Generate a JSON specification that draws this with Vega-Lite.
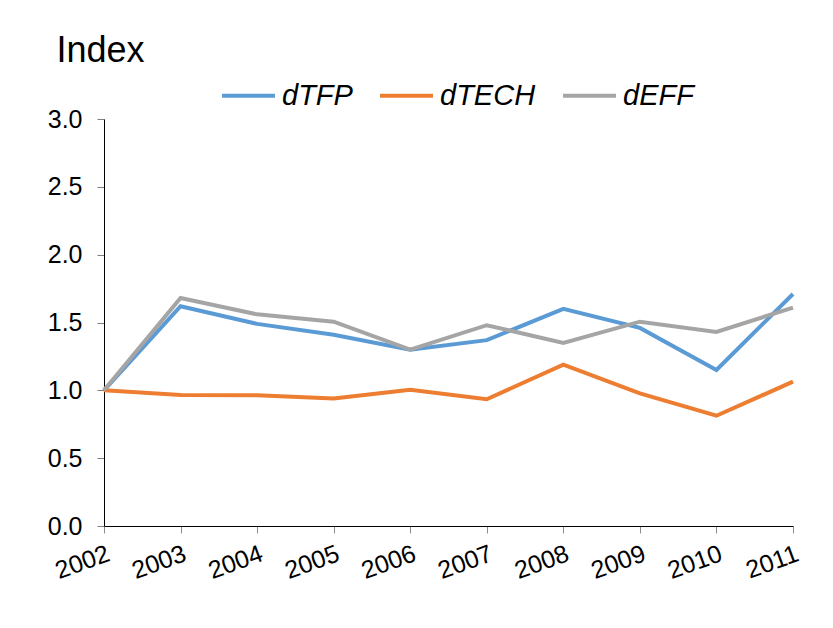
{
  "$schema": "https://vega.github.io/schema/vega-lite/v6.json",
  "width": 689,
  "height": 407,
  "autosize": {"type": "none"},
  "padding": {"left": 104, "top": 119, "right": 40, "bottom": 102},
  "background": "white",
  "config": {
    "font": "Liberation Sans",
    "view": {"stroke": null},
    "axis": {"grid": false, "labelColor": "black", "labelFont": "Liberation Sans"}
  },
  "data": {
    "values": [
      {"year": "2002", "series": "dTFP", "value": 1.0},
      {"year": "2003", "series": "dTFP", "value": 1.62},
      {"year": "2004", "series": "dTFP", "value": 1.49},
      {"year": "2005", "series": "dTFP", "value": 1.41},
      {"year": "2006", "series": "dTFP", "value": 1.30},
      {"year": "2007", "series": "dTFP", "value": 1.37},
      {"year": "2008", "series": "dTFP", "value": 1.60},
      {"year": "2009", "series": "dTFP", "value": 1.46},
      {"year": "2010", "series": "dTFP", "value": 1.15},
      {"year": "2011", "series": "dTFP", "value": 1.71},
      {"year": "2002", "series": "dTECH", "value": 1.0},
      {"year": "2003", "series": "dTECH", "value": 0.966},
      {"year": "2004", "series": "dTECH", "value": 0.963},
      {"year": "2005", "series": "dTECH", "value": 0.94},
      {"year": "2006", "series": "dTECH", "value": 1.005},
      {"year": "2007", "series": "dTECH", "value": 0.934},
      {"year": "2008", "series": "dTECH", "value": 1.19},
      {"year": "2009", "series": "dTECH", "value": 0.978},
      {"year": "2010", "series": "dTECH", "value": 0.813},
      {"year": "2011", "series": "dTECH", "value": 1.064},
      {"year": "2002", "series": "dEFF", "value": 1.0},
      {"year": "2003", "series": "dEFF", "value": 1.68},
      {"year": "2004", "series": "dEFF", "value": 1.56},
      {"year": "2005", "series": "dEFF", "value": 1.506},
      {"year": "2006", "series": "dEFF", "value": 1.30},
      {"year": "2007", "series": "dEFF", "value": 1.48},
      {"year": "2008", "series": "dEFF", "value": 1.35},
      {"year": "2009", "series": "dEFF", "value": 1.506},
      {"year": "2010", "series": "dEFF", "value": 1.43},
      {"year": "2011", "series": "dEFF", "value": 1.61}
    ]
  },
  "mark": {"type": "line", "strokeWidth": 4, "strokeJoin": "miter", "strokeCap": "butt"},
  "encoding": {
    "x": {
      "field": "year",
      "type": "ordinal",
      "scale": {"type": "point", "padding": 0},
      "axis": {
        "title": null,
        "labelAngle": -20,
        "labelAlign": "right",
        "labelBaseline": "top",
        "labelFontSize": 25,
        "labelPadding": 8,
        "tickSize": 7,
        "tickColor": "#8c8c8c",
        "domainColor": "black",
        "domainWidth": 1
      }
    },
    "y": {
      "field": "value",
      "type": "quantitative",
      "scale": {"domain": [0, 3], "nice": false},
      "axis": {
        "values": [0, 0.5, 1, 1.5, 2, 2.5, 3],
        "format": ".1f",
        "labelFontSize": 25,
        "labelPadding": 15,
        "tickSize": 7,
        "tickColor": "#7f7f7f",
        "domainColor": "black",
        "domainWidth": 1,
        "title": "Index",
        "titleAngle": 0,
        "titleAlign": "left",
        "titleBaseline": "alphabetic",
        "titleX": -48,
        "titleY": -58,
        "titleFontSize": 36,
        "titleFontWeight": "normal",
        "titleColor": "black",
        "titleFont": "Liberation Sans"
      }
    },
    "color": {
      "field": "series",
      "type": "nominal",
      "sort": ["dTFP", "dTECH", "dEFF"],
      "scale": {"domain": ["dTFP", "dTECH", "dEFF"], "range": ["#5B9BD5", "#ED7D31", "#A5A5A5"]},
      "legend": {
        "title": null,
        "orient": "none",
        "direction": "horizontal",
        "legendX": 116,
        "legendY": -52,
        "symbolType": "stroke",
        "symbolSize": 2800,
        "symbolStrokeWidth": 4,
        "labelFontSize": 29,
        "labelFontStyle": "italic",
        "labelColor": "black",
        "labelOffset": 5,
        "columnPadding": 19
      }
    }
  }
}
